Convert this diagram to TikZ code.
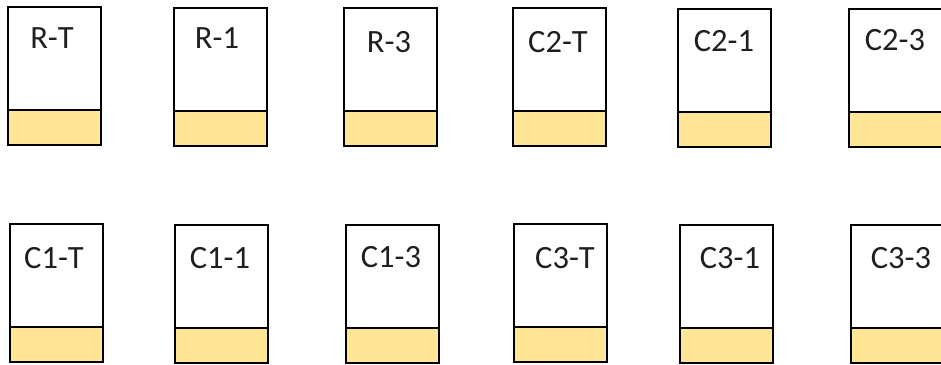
\documentclass[tikz,border=0pt]{standalone}
\usepackage{fontspec}
\setmainfont{Carlito}
\definecolor{gold}{HTML}{FFE596}
\begin{document}
\begin{tikzpicture}[x=1pt,y=-1pt,
  card/.style={draw=black, line width=1.6pt, minimum width=93pt, minimum height=138pt, inner sep=0pt, outer sep=0pt, anchor=north west},
  band/.style={draw=black, fill=gold, line width=1.8pt, minimum width=93pt, minimum height=35pt, inner sep=0pt, outer sep=0pt, anchor=south west},
  lbl/.style={font=\fontsize{32.5}{32.5}\selectfont, inner sep=0pt, anchor=base, text=black!88}]
\useasboundingbox (0,0) rectangle (941,364);
\newcommand\cardbox[6]{%
  \node[card] (#1) at (#2,#3) {};
  \node[band] (#1b) at (#1.south west) {};
  \node[lbl] (#1t) at (#5,#6) {#4};
}
\cardbox{rt}{8}{7}{R-T}{52}{48}
\cardbox{r1}{174}{8}{R-1}{217}{48}
\cardbox{r3}{344}{8}{R-3}{389}{52}
\cardbox{c2t}{513}{8}{C2-T}{558}{52}
\cardbox{c21}{678}{9}{C2-1}{724}{51}
\cardbox{c23}{849}{9}{C2-3}{895}{50}
\cardbox{c1t}{10}{224}{C1-T}{54}{268}
\cardbox{c11}{175}{225}{C1-1}{220}{268}
\cardbox{c13}{346}{225}{C1-3}{391}{267}
\cardbox{c3t}{514}{224}{C3-T}{565}{268}
\cardbox{c31}{680}{225}{C3-1}{730}{268}
\cardbox{c33}{851}{225}{C3-3}{901}{268}
\end{tikzpicture}
\end{document}
